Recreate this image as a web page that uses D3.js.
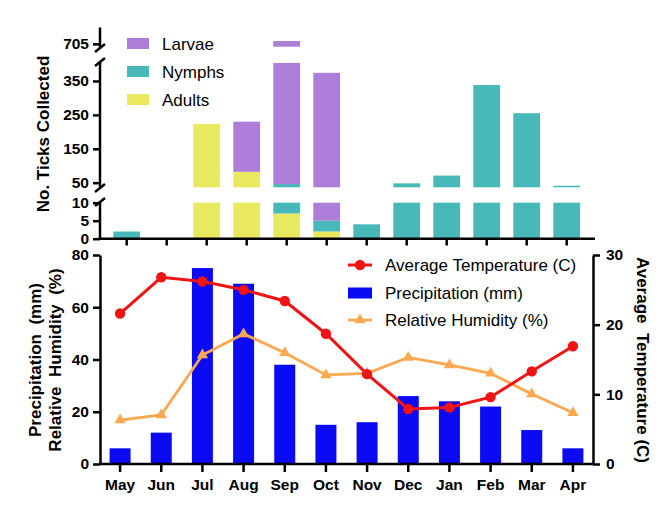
<!DOCTYPE html>
<html>
<head>
<meta charset="utf-8">
<script src="https://cdn.jsdelivr.net/npm/d3@7"></script>
<style>
  body { margin: 0; background: #fff; }
  svg { display: block; font-family: "Liberation Sans", Arial, sans-serif; }
</style>
</head>
<body>
<svg id="chart" width="669" height="508"></svg>
<script>
// ---------- DATA ----------
const months = ["May","Jun","Jul","Aug","Sep","Oct","Nov","Dec","Jan","Feb","Mar","Apr"];
const larvae = [0, 0, 0, 148, 662, 369, 0, 0, 0, 0, 0, 0];
const nymphs = [2, 0, 0, 0, 39, 3, 4, 48, 71, 338, 255, 41];
const adults = [0, 0, 223, 82, 7, 2, 0, 0, 0, 0, 0, 0];
const precipitation = [6, 12, 75, 69, 38, 15, 16, 26, 24, 22, 13, 6];
const temperature = [21.6, 26.8, 26.2, 25.0, 23.4, 18.7, 12.9, 7.9, 8.1, 9.6, 13.3, 16.9];
const humidity = [16.8, 18.8, 41.7, 49.8, 42.6, 34.1, 34.7, 40.8, 37.9, 34.7, 26.8, 19.6];
const tickTicksLow = [0, 5, 10];
const tickTicksMid = [50, 150, 250, 350];
const tickTicksTop = [705];
const leftTicks = [0, 20, 40, 60, 80];
const rightTicks = [0, 10, 20, 30];

const stageNames = ["Adults", "Nymphs", "Larvae"];
const stageColors = { Larvae: "#AD7ED8", Nymphs: "#48B9B8", Adults: "#E9E95F" };
const colBlue = "#0A0AF5", colRed = "#F01414", colOrange = "#FBA850";

const svg = d3.select("#chart");
const AX = 2.5;

// ---------- TOP PANEL ----------
const xTop = d3.scaleBand().domain(months).range([106.7, 586.7]).paddingInner(0.33).paddingOuter(0.165);
const segs = [
  { scale: d3.scaleLinear().domain([0, 10]).range([238.7, 202.7]), ticks: tickTicksLow, line: [201, 238.7] },
  { scale: d3.scaleLinear().domain([36.4, 403]).range([187.3, 63]), ticks: tickTicksMid, line: [61, 189] },
  { scale: d3.scaleLinear().domain([702, 722]).range([46.7, 27.7]), ticks: tickTicksTop, line: [27.5, 49] }
];

const stackData = months.map((m, i) => ({ month: m, Adults: adults[i], Nymphs: nymphs[i], Larvae: larvae[i] }));
const stacked = d3.stack().keys(stageNames)(stackData);

const gTop = svg.append("g");
segs.forEach(seg => {
  const [lo, hi] = seg.scale.domain();
  stacked.forEach(layer => {
    gTop.append("g").selectAll("rect")
      .data(layer.filter(d => Math.min(d[1], hi) > Math.max(d[0], lo)))
      .join("rect")
      .attr("x", d => xTop(d.data.month))
      .attr("width", xTop.bandwidth())
      .attr("y", d => seg.scale(Math.min(d[1], hi)))
      .attr("height", d => seg.scale(Math.max(d[0], lo)) - seg.scale(Math.min(d[1], hi)))
      .attr("fill", stageColors[layer.key]);
  });
  // axis ticks
  const ax = gTop.append("g").attr("transform", "translate(100,0)")
    .call(d3.axisLeft(seg.scale).tickValues(seg.ticks).tickSize(7).tickPadding(4));
  ax.select(".domain").remove();
  ax.selectAll(".tick line").attr("stroke", "#000").attr("stroke-width", AX);
  ax.selectAll(".tick text").attr("font-size", 15.5).attr("font-weight", "bold").attr("fill", "#000")
    .attr("font-family", "'Liberation Sans', Arial, sans-serif");
  // axis line segment
  gTop.append("line").attr("x1", 100).attr("x2", 100).attr("y1", seg.line[0]).attr("y2", seg.line[1])
    .attr("stroke", "#000").attr("stroke-width", AX);
});
// break slashes
[48, 62, 188, 202].forEach(y => {
  gTop.append("line").attr("x1", 95).attr("y1", y + 4).attr("x2", 105).attr("y2", y - 4)
    .attr("stroke", "#000").attr("stroke-width", AX);
});
// top x axis
gTop.append("line").attr("x1", 98.8).attr("x2", 595).attr("y1", 238.7).attr("y2", 238.7)
  .attr("stroke", "#000").attr("stroke-width", AX);
gTop.append("g").selectAll("line").data(months).join("line")
  .attr("x1", d => xTop(d) + xTop.bandwidth() / 2).attr("x2", d => xTop(d) + xTop.bandwidth() / 2)
  .attr("y1", 238.7).attr("y2", 245.5).attr("stroke", "#000").attr("stroke-width", AX);

// top y title
svg.append("text").attr("transform", "translate(49,134) rotate(-90)")
  .attr("text-anchor", "middle").attr("font-size", 17).attr("font-weight", "bold")
  .text("No. Ticks Collected");

// top legend
const legTop = ["Larvae", "Nymphs", "Adults"];
legTop.forEach((k, i) => {
  const y = 43.5 + i * 28;
  svg.append("rect").attr("x", 127).attr("y", y - 5.5).attr("width", 22).attr("height", 11).attr("fill", stageColors[k]);
  svg.append("text").attr("x", 162).attr("y", y).attr("dy", "0.36em").attr("font-size", 17).text(k);
});

// ---------- BOTTOM PANEL ----------
const xBot = d3.scaleBand().domain(months).range([99.5, 593.5]).paddingInner(0.49).paddingOuter(0.245);
const yLeft = d3.scaleLinear().domain([0, 80]).range([464, 255]);
const yRight = d3.scaleLinear().domain([0, 30]).range([464, 255]);
const cx = m => xBot(m) + xBot.bandwidth() / 2;

const gBot = svg.append("g");
gBot.append("g").selectAll("rect").data(months).join("rect")
  .attr("x", d => xBot(d)).attr("width", xBot.bandwidth())
  .attr("y", (d, i) => yLeft(precipitation[i]))
  .attr("height", (d, i) => yLeft(0) - yLeft(precipitation[i]))
  .attr("fill", colBlue);

// humidity line
const humLine = d3.line().x((d, i) => cx(months[i])).y(d => yLeft(d));
gBot.append("path").datum(humidity).attr("d", humLine).attr("fill", "none")
  .attr("stroke", colOrange).attr("stroke-width", 2.8);
const tri = d3.symbol().type(d3.symbolTriangle).size(55);
gBot.append("g").selectAll("path").data(humidity).join("path")
  .attr("d", tri).attr("transform", (d, i) => `translate(${cx(months[i])},${yLeft(d)})`)
  .attr("fill", colOrange);

// temperature line
const tempLine = d3.line().x((d, i) => cx(months[i])).y(d => yRight(d));
gBot.append("path").datum(temperature).attr("d", tempLine).attr("fill", "none")
  .attr("stroke", colRed).attr("stroke-width", 3);
gBot.append("g").selectAll("circle").data(temperature).join("circle")
  .attr("cx", (d, i) => cx(months[i])).attr("cy", d => yRight(d)).attr("r", 5.2)
  .attr("fill", colRed);

// axes
function styleAxis(ax) {
  ax.selectAll(".domain").attr("stroke", "#000").attr("stroke-width", AX);
  ax.selectAll(".tick line").attr("stroke", "#000").attr("stroke-width", AX);
  ax.selectAll(".tick text").attr("font-size", 15.5).attr("font-weight", "bold").attr("fill", "#000")
    .attr("font-family", "'Liberation Sans', Arial, sans-serif");
}
const axL = gBot.append("g").attr("transform", "translate(100,0)")
  .call(d3.axisLeft(yLeft).tickValues(leftTicks).tickSize(7).tickSizeOuter(0).tickPadding(4));
styleAxis(axL);
const axR = gBot.append("g").attr("transform", "translate(593,0)")
  .call(d3.axisRight(yRight).tickValues(rightTicks).tickSize(7).tickSizeOuter(0).tickPadding(6));
styleAxis(axR);
const axB = gBot.append("g").attr("transform", "translate(0,464)")
  .call(d3.axisBottom(xBot).tickSize(8).tickSizeOuter(0).tickPadding(7));
styleAxis(axB);
axB.select(".domain").attr("d", "M98.8,0H594.2");

// bottom titles
svg.append("text").attr("transform", "translate(41,360) rotate(-90)")
  .attr("text-anchor", "middle").attr("font-size", 17).attr("font-weight", "bold")
  .attr("xml:space", "preserve").style("white-space", "pre")
  .text("Precipitation  (mm)");
svg.append("text").attr("transform", "translate(61,360) rotate(-90)")
  .attr("text-anchor", "middle").attr("font-size", 17).attr("font-weight", "bold")
  .style("white-space", "pre")
  .text("Relative  Humidity  (%)");
svg.append("text").attr("transform", "translate(637,360) rotate(90)")
  .attr("text-anchor", "middle").attr("font-size", 17).attr("font-weight", "bold")
  .style("white-space", "pre")
  .text("Average  Temperature (C)");

// bottom legend
const lg = svg.append("g");
const legY = [265, 293, 320];
lg.append("line").attr("x1", 348).attr("x2", 372).attr("y1", legY[0]).attr("y2", legY[0])
  .attr("stroke", colRed).attr("stroke-width", 3);
lg.append("circle").attr("cx", 360).attr("cy", legY[0]).attr("r", 5.2).attr("fill", colRed);
lg.append("rect").attr("x", 348).attr("y", legY[1] - 5.5).attr("width", 24).attr("height", 11).attr("fill", colBlue);
lg.append("line").attr("x1", 348).attr("x2", 372).attr("y1", legY[2]).attr("y2", legY[2])
  .attr("stroke", colOrange).attr("stroke-width", 2.8);
lg.append("path").attr("d", tri).attr("transform", `translate(360,${legY[2]})`).attr("fill", colOrange);
["Average Temperature (C)", "Precipitation (mm)", "Relative Humidity (%)"].forEach((t, i) => {
  lg.append("text").attr("x", 385).attr("y", legY[i]).attr("dy", "0.36em").attr("font-size", 17).text(t);
});
</script>
</body>
</html>
